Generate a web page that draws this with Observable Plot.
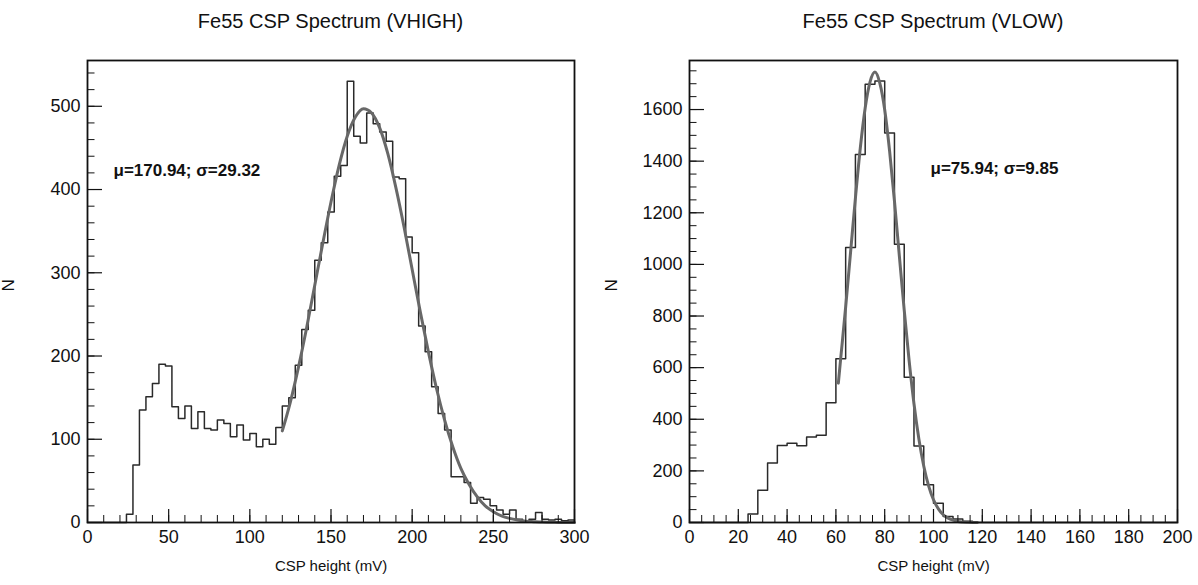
<!DOCTYPE html>
<html><head><meta charset="utf-8">
<script src="https://cdn.jsdelivr.net/npm/d3@7"></script>
<script src="https://cdn.jsdelivr.net/npm/@observablehq/plot@0.6"></script>
<style>
body{margin:0;background:#fff;font-family:"Liberation Sans",Arial,sans-serif;}
#wrap{position:relative;width:1198px;height:585px;overflow:hidden;}
.panel{position:absolute;top:0;width:599px;height:585px;}
.title{position:absolute;top:0;height:40px;line-height:42px;font-size:20px;text-align:center;color:#111;white-space:nowrap;}
.panel svg{position:absolute;top:40px;left:0;}
</style></head>
<body><div id="wrap">
<div class="panel" id="p1"><div class="title" style="left:87px;width:487px">Fe55 CSP Spectrum (VHIGH)</div></div>
<div class="panel" id="p2" style="left:599px"><div class="title" style="left:90px;width:488px">Fe55 CSP Spectrum (VLOW)</div></div>
</div>
<script>
// Histogram bin width (mV); bins start at 0
const binWidth = 4;

// VHIGH: counts per 4 mV bin, 0..300 mV
const vhighCounts = [0,0,0,0,0,0,10,69,135,151,167,190,188,139,125,140,113,133,113,111,
  123,119,103,117,99,107,91,100,94,114,140,150,189,232,255,315,336,373,416,429,
  530,464,456,492,479,469,458,415,413,343,324,236,205,163,131,111,55,55,48,23,
  30,28,20,15,10,15,4,2,4,12,4,3,4,2,3];
// VHIGH fit curve
const vhighFitX = [120,125,130,135,140,145,150,155,160,165,170,175,180,185,190,195,200,205,210,215,220,225,230,235,240,245,250,255,260,265,270,275,280,285,290,295,300];
const vhighFitN = [110,145,187,234,285,336,385,429,464,487,497,492,474,443,402,355,304,253,205,161,123,91,65,46,31,20,13,8,5,3,1.6,1,0.5,0.3,0.1,0,0];

// VLOW: counts per 4 mV bin, 0..200 mV
const vlowCounts = [0,0,0,0,0,0,33,125,231,298,307,297,331,338,464,634,1065,1426,1698,1711,
  1509,1078,563,296,146,75,23,14,5,0,0,0,0,0,0,0,0,0,0,0,0,0,0,0,0,0,0,0,0,0];
const vlowFitX = [61,62,64,66,68,70,72,74,76,78,80,82,84,86,88,90,92,94,96,98,100,102,104,106,108,110,112,114,116,118];
const vlowFitN = [540,639,835,1046,1257,1451,1606,1707,1745,1702,1599,1440,1245,1033,823,628,460,324,219,142,88,53,30,17,9,4,2,1,0.3,0];

// Axis ticks
const vhighXMajor = [0,50,100,150,200,250,300];
const vhighXMinor = d3.range(0,301,10);
const vhighYMajor = [0,100,200,300,400,500];
const vhighYMinor = d3.range(0,551,20);
const vlowXMajor = [0,20,40,60,80,100,120,140,160,180,200];
const vlowXMinor = d3.range(0,201,5);
const vlowYMajor = [0,200,400,600,800,1000,1200,1400,1600];
const vlowYMinor = d3.range(0,1751,50);

const vhighNote = "\u03bc=170.94; \u03c3=29.32";
const vlowNote = "\u03bc=75.94; \u03c3=9.85";

function panel(o) {
  const pts = o.counts.map((n, i) => ({x: i * binWidth, n}));
  pts.push({x: o.counts.length * binWidth, n: o.counts[o.counts.length - 1]});
  const fit = o.fitX.map((x, i) => ({x, n: o.fitN[i]}));
  const fmt = d => String(d);
  return Plot.plot({
    width: 599, height: 545,
    marginLeft: o.marginLeft, marginRight: o.marginRight, marginTop: 20, marginBottom: 63,
    style: {fontFamily: "'Liberation Sans', Arial, sans-serif", fontSize: "18px", color: "#111", background: "transparent", overflow: "visible"},
    x: {domain: [0, o.xMax]},
    y: {domain: [0, o.yMax]},
    marks: [
      Plot.lineY(pts, {x: "x", y: "n", curve: "step-after", stroke: "#2a2a2a", strokeWidth: 1.5}),
      Plot.line(fit, {x: "x", y: "n", curve: "monotone-x", stroke: "#686868", strokeWidth: 3}),
      Plot.axisX(o.xMinor, {tickSize: -7, text: null, label: null, stroke: "#111"}),
      Plot.axisX(o.xMajor, {tickSize: -13, tickPadding: 21, label: null, stroke: "#111", strokeWidth: 1.2, tickFormat: fmt, fontSize: 18}),
      Plot.axisY(o.yMinor, {tickSize: -7.5, text: null, label: null, stroke: "#111"}),
      Plot.axisY(o.yMajor, {tickSize: -15, tickPadding: 22, label: null, stroke: "#111", strokeWidth: 1.2, tickFormat: fmt, fontSize: 18}),
      Plot.frame({stroke: "#111", strokeWidth: 1.8}),
      Plot.text([o.note], {frameAnchor: "top-left", dx: o.noteDx, dy: o.noteDy, textAnchor: "start", lineAnchor: "middle", fontWeight: "bold", fontSize: 17, fill: "#111"}),
      Plot.text(["CSP height (mV)"], {frameAnchor: "bottom", dy: 48, fontSize: 15, fill: "#111"}),
      Plot.text(["N"], {frameAnchor: "left", dx: o.nDx, rotate: -90, fontSize: 17, fill: "#111"})
    ]
  });
}

document.getElementById("p1").appendChild(panel({
  counts: vhighCounts, fitX: vhighFitX, fitN: vhighFitN,
  xMax: 300, yMax: 555, xMajor: vhighXMajor, xMinor: vhighXMinor, yMajor: vhighYMajor, yMinor: vhighYMinor,
  marginLeft: 87, marginRight: 25, note: vhighNote, noteDx: 26, noteDy: 110, nDx: -79
}));
document.getElementById("p2").appendChild(panel({
  counts: vlowCounts, fitX: vlowFitX, fitN: vlowFitN,
  xMax: 200, yMax: 1790, xMajor: vlowXMajor, xMinor: vlowXMinor, yMajor: vlowYMajor, yMinor: vlowYMinor,
  marginLeft: 90, marginRight: 21, note: vlowNote, noteDx: 241, noteDy: 108, nDx: -78
}));
</script>
</body></html>
